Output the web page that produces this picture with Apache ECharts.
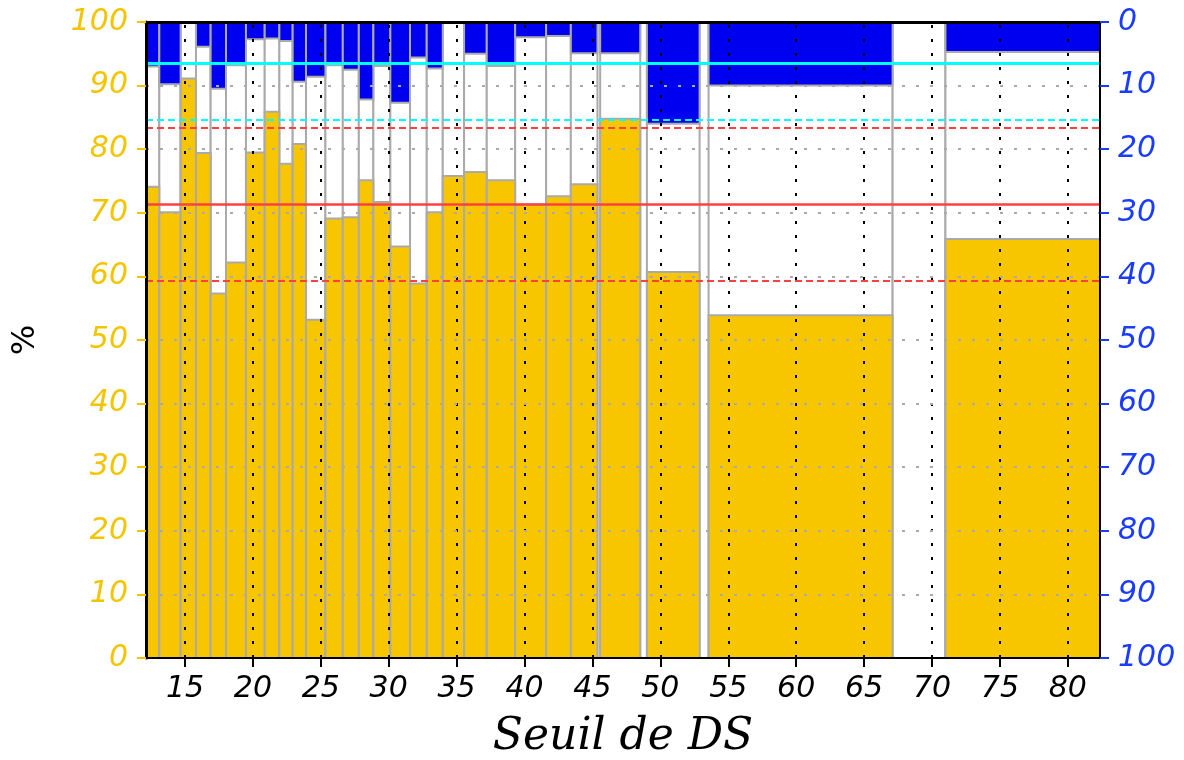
<!DOCTYPE html>
<html lang="fr">
<head>
<meta charset="UTF-8">
<title>Seuil de DS</title>
<script src="https://cdn.jsdelivr.net/npm/echarts@6.0.0/dist/echarts.min.js"></script>
<style>
    html, body { margin: 0; background: #fff; }
    #main { width: 1184px; height: 760px; }
</style>
</head>
<body>
<div id="main"></div>
<script>
// bins of the DS threshold (x range of each bar)
var binStart = [12.13, 13.11, 14.68, 15.81, 16.89, 18.02, 19.49, 20.87, 21.95, 22.93,
                23.91, 25.34, 26.62, 27.80, 28.87, 30.12, 31.57, 32.80, 33.98, 35.55,
                37.22, 39.31, 41.59, 43.41, 45.57, 49.01, 53.55, 67.10, 70.99];
var binEnd   = [13.11, 14.68, 15.81, 16.89, 18.02, 19.49, 20.87, 21.95, 22.93, 23.91,
                25.34, 26.62, 27.80, 28.87, 30.12, 31.57, 32.80, 33.98, 35.55, 37.22,
                39.31, 41.59, 43.41, 45.37, 48.52, 52.89, 67.10, 70.99, 82.37];
// left axis (yellow, from the bottom)
var yellowPct = [74.1, 70.1, 91.1, 79.4, 57.3, 62.2, 79.5, 85.9, 77.7, 80.8,
                 53.2, 69.1, 69.3, 75.1, 71.7, 64.7, 58.9, 70.1, 75.8, 76.4,
                 75.1, 71.3, 72.6, 74.5, 84.8, 60.7, 53.9, 0, 65.9];
// right axis (blue, inverted, from the top)
var bluePct = [7.0, 9.8, 0, 3.9, 10.5, 6.8, 2.7, 2.6, 3.0, 9.4,
               8.6, 6.8, 7.5, 12.2, 6.9, 12.7, 5.6, 7.3, 0, 5.0,
               6.9, 2.4, 2.2, 4.9, 4.9, 16.0, 10.0, 0, 4.7];
var xTicks = [15, 20, 25, 30, 35, 40, 45, 50, 55, 60, 65, 70, 75, 80];
var yellowMean = 71.35, yellowBand = [83.4, 59.3];
var blueMean = 6.56, blueBand = [15.35];

var myChart = echarts.init(document.getElementById('main'));

var whiteData = [], yellowData = [], blueData = [];
for (var i = 0; i < binStart.length; i++) {
    whiteData.push([binStart[i], binEnd[i], 0, 100]);
    yellowData.push([binStart[i], binEnd[i], 0, yellowPct[i]]);
    blueData.push([binStart[i], binEnd[i], 0, bluePct[i]]);
}

function drawBin(params, api) {
    var a = api.coord([api.value(0), api.value(2)]);
    var b = api.coord([api.value(1), api.value(3)]);
    return {
        type: 'rect',
        shape: {
            x: Math.min(a[0], b[0]),
            y: Math.min(a[1], b[1]),
            width: Math.abs(b[0] - a[0]),
            height: Math.abs(b[1] - a[1])
        },
        style: api.style()
    };
}

var labelFont = { fontFamily: 'DejaVu Sans', fontStyle: 'italic', fontSize: 30 };
var border = { color: '#aaaaaa', width: 2 };

var option = {
    animation: false,
    grid: { left: 146, right: 84, top: 22, bottom: 102, outerBoundsMode: 'none', containLabel: false },
    xAxis: [{
        type: 'value', min: 12.13, max: 82.37, position: 'bottom', z: 10,
        name: 'Seuil de DS', nameLocation: 'middle', nameGap: 58,
        nameTextStyle: { fontFamily: 'DejaVu Serif', fontStyle: 'italic', fontSize: 44, color: '#000' },
        axisLine: { lineStyle: { color: '#000', width: 2 } },
        axisTick: { customValues: xTicks, length: 9, lineStyle: { color: '#000', width: 2 } },
        axisLabel: Object.assign({ customValues: xTicks, color: '#000', margin: 16 }, labelFont),
        splitLine: { show: false }
    }, {
        type: 'value', min: 12.13, max: 82.37, position: 'top', z: 10,
        axisLine: { lineStyle: { color: '#000', width: 3 } },
        axisTick: { show: false }, axisLabel: { show: false }, splitLine: { show: false }
    }],
    yAxis: [{
        type: 'value', min: 0, max: 100, interval: 10, position: 'left', z: 10,
        name: '%', nameLocation: 'middle', nameGap: 104, nameRotate: 90,
        nameTextStyle: { fontFamily: 'DejaVu Sans', fontSize: 32, color: '#000' },
        axisLine: { show: true, lineStyle: { color: '#000', width: 3 } },
        axisTick: { length: 9, lineStyle: { color: '#f5c400', width: 2 } },
        axisLabel: Object.assign({ color: '#f5c400', margin: 18 }, labelFont),
        splitLine: { show: true, showMinLine: false, showMaxLine: false,
                     lineStyle: { color: '#aaaaaa', width: 2, type: [3, 11] } }
    }, {
        type: 'value', min: 0, max: 100, interval: 10, position: 'right', inverse: true, z: 10,
        axisLine: { show: true, lineStyle: { color: '#000', width: 2 } },
        axisTick: { length: 9, lineStyle: { color: '#1a3cff', width: 2 } },
        axisLabel: Object.assign({ color: '#1a3cff', margin: 18 }, labelFont),
        splitLine: { show: false }
    }],
    series: [{
        name: 'fond', type: 'custom', renderItem: drawBin, z: 2,
        encode: { x: [0, 1], y: [2, 3] },
        itemStyle: { color: '#ffffff', borderColor: border.color, borderWidth: border.width },
        data: whiteData
    }, {
        name: 'jaune', type: 'custom', renderItem: drawBin, z: 3,
        encode: { x: [0, 1], y: [2, 3] },
        itemStyle: { color: '#f8c600', borderColor: border.color, borderWidth: border.width },
        data: yellowData,
        markLine: {
            silent: true, symbol: 'none', label: { show: false }, z: 6,
            data: [
                { yAxis: yellowMean, lineStyle: { color: '#ff4040', width: 2.5, type: 'solid' } },
                { yAxis: yellowBand[0], lineStyle: { color: '#ff4040', width: 2, type: [7, 4] } },
                { yAxis: yellowBand[1], lineStyle: { color: '#ff4040', width: 2, type: [7, 4] } }
            ]
        }
    }, {
        name: 'bleu', type: 'custom', renderItem: drawBin, z: 4, yAxisIndex: 1,
        encode: { x: [0, 1], y: [2, 3] },
        itemStyle: { color: '#0000f0', borderColor: border.color, borderWidth: border.width },
        data: blueData,
        markLine: {
            silent: true, symbol: 'none', label: { show: false }, z: 6,
            data: [
                { yAxis: blueMean, lineStyle: { color: '#00ffff', width: 3, type: 'solid' } },
                { yAxis: blueBand[0], lineStyle: { color: '#00ffff', width: 2, type: [7, 4] } }
            ]
        }
    }, {
        name: 'grille', type: 'line', data: [], z: 8,
        markLine: {
            silent: true, symbol: 'none', label: { show: false },
            lineStyle: { color: '#000', width: 2, type: [3, 11] },
            data: xTicks.map(function (v) { return { xAxis: v }; })
        }
    }]
};

myChart.setOption(option);
</script>
</body>
</html>
